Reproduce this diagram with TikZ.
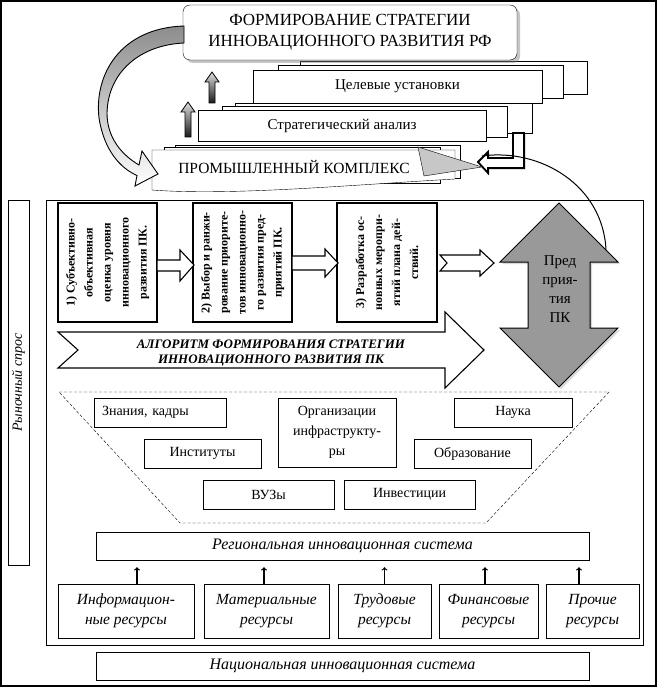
\documentclass[tikz,border=0pt]{standalone}
\usepackage{fontspec}
\setmainfont{Liberation Serif}
\usepackage{tikz}
\usetikzlibrary{shadows,calc}

\begin{document}
\begin{tikzpicture}[x=1pt,y=-1pt,
    box/.style={draw,fill=white,inner sep=0pt,align=center},
    layer/.style={draw,fill=white},
    stepbox/.style={draw,line width=1.4pt,fill=white,inner sep=0pt,align=center,rotate=90,
        minimum width=119,minimum height=99,font=\fontsize{12}{18}\selectfont\bfseries},
    ibox/.style={draw,fill=white,inner sep=0pt,align=center,minimum height=29,
        font=\fontsize{14}{17}\selectfont},
    resbox/.style={draw,fill=white,inner sep=0pt,align=center,minimum height=54,
        font=\fontsize{15.5}{20}\selectfont\itshape},
    sysbox/.style={draw,fill=white,inner sep=0pt,minimum width=493,minimum height=28,
        font=\fontsize{16}{19}\selectfont\itshape},
    blockarrow/.style={draw,line width=1.1pt,fill=white},
    uparrow/.style={draw,line width=0.8pt,top color=gray!25,middle color=gray!50,bottom color=black!90}]

   \useasboundingbox (0,0) rectangle (657,687);
   \fill[white] (0,0) rectangle (657,687);
   \draw[line width=1.4pt] (1,1) rectangle (656,686);

   \draw[layer] (300,61) rectangle (587,94);
   \draw[layer] (278,65) rectangle (563,98);
   \draw (397.5,86.5) node[box,minimum width=289,minimum height=33,font=\fontsize{15}{18}\selectfont] (celi) {Целевые установки};

   \draw (350,32.5) node[box,rounded corners=7pt,minimum width=334,minimum height=55,
      drop shadow={shadow xshift=3pt,shadow yshift=-3pt,opacity=.45},
      font=\fontsize{17}{21}\selectfont] (rf) {ФОРМИРОВАНИЕ СТРАТЕГИИ\\ИННОВАЦИОННОГО РАЗВИТИЯ РФ};

   \draw[layer] (235,103) rectangle (532,133);
   \draw[layer] (222,106) rectangle (507,137);
   \draw (342,125.5) node[box,minimum width=288,minimum height=31,font=\fontsize{15}{18}\selectfont] (analiz) {Стратегический анализ};

   \draw[layer] (175,145) rectangle (460,178);
   \draw[layer] (164,147) rectangle (440,183);
   \draw[fill=white] (152,150) -- (455,150) -- (455,179) .. controls (350,185) and (230,196) .. (152,190) -- cycle;
   \draw (294,167) node[font=\fontsize{15.5}{18}\selectfont] (prom) {ПРОМЫШЛЕННЫЙ КОМПЛЕКС};

   \draw[line width=1.8pt,fill=white,drop shadow={shadow xshift=1.5pt,shadow yshift=-1.5pt,opacity=.4}]
      (513,133) -- (524,133) -- (524,168) -- (488,168) -- (488,173) -- (478,162) -- (488,152) -- (488,158) -- (513,158) -- cycle;
   \draw[fill=black!22] (418,147) -- (482,167) -- (424,176) -- cycle;

   \draw[top color=black!45,bottom color=white,line width=0.9pt]
      (184,26) .. controls (120,28) and (94,75) .. (99,118) .. controls (104,150) and (120,168) .. (137,175.5)
      -- (135,186) -- (158,174) -- (142,151) -- (139,165)
      .. controls (122,155) and (107,138) .. (107,113) .. controls (108,72) and (140,45) .. (184,43) -- cycle;

   \draw[uparrow] (188,102) -- (195,112) -- (191,112) -- (191,137) -- (185,137) -- (185,112) -- (181,112) -- cycle;
   \draw[uparrow] (212,72) -- (219,82) -- (215,82) -- (215,103) -- (209,103) -- (209,82) -- (205,82) -- cycle;

   \draw (18.5,382.5) node[box,rotate=90,minimum width=365,minimum height=21,font=\fontsize{14}{16}\selectfont\itshape] (spros) {Рыночный спрос};

   \draw[line width=0.9pt] (46,200) rectangle (643,645);

   \draw (107.5,262.5) node[stepbox] (s1) {1) Субъективно-\\объективная\\оценка уровня\\инновационного\\развития ПК.};
   \draw (242.5,262.5) node[stepbox] (s2) {2) Выбор и ранжи-\\рование приорите-\\тов инновационно-\\го развития пред-\\приятий ПК.};
   \draw (387,262.5) node[stepbox,minimum height=100] (s3) {3) Разработка ос-\\новных меропри-\\ятий плана дей-\\ствий.};

   \draw[blockarrow] (157,260) -- (180,260) -- (180,250) -- (194,265) -- (180,281) -- (180,271) -- (157,271) -- cycle;
   \draw[blockarrow] (292,256) -- (325,256) -- (325,249) -- (338,263) -- (325,277) -- (325,270) -- (292,270) -- cycle;
   \draw[blockarrow] (440,255) -- (480,255) -- (480,250) -- (494,263) -- (480,276) -- (480,271) -- (440,271) -- (447,263) -- cycle;

   \draw[fill=black!40,line width=1pt,drop shadow={shadow xshift=2pt,shadow yshift=-2pt,opacity=.3}]
      (559,203) -- (618,262) -- (590,262) -- (590,328) -- (618,328) -- (559,387) -- (500,328) -- (528,328) -- (528,262) -- (500,262) -- cycle;
   \draw (560,289) node[align=center,font=\fontsize{15}{19}\selectfont] (pk) {Пред\\прия-\\тия\\ПК};

   \coordinate (kp) at (606,250);
   \coordinate (kpend) at (482,156);
   \draw[line width=1pt] (kp) .. controls (603,185) and (540,148) .. (kpend);

   \draw[blockarrow] (58,332) -- (445,332) -- (445,312) -- (484,350) -- (445,388) -- (445,368) -- (58,368) -- (78,350) -- cycle;
   \draw (271,353) node[align=center,font=\fontsize{13}{15.5}\selectfont\bfseries\itshape] (alg) {АЛГОРИТМ ФОРМИРОВАНИЯ СТРАТЕГИИ\\ИННОВАЦИОННОГО РАЗВИТИЯ ПК};

   \draw[dash pattern=on 3pt off 2pt] (59,392) -- (609,392) -- (486,523) -- (180,523) -- cycle;
   \draw (160,412.5) node[ibox,minimum width=132,text width=116,align=left] (znan) {Знания, кадры};
   \draw (337,432.5) node[ibox,minimum width=118,minimum height=69,font=\fontsize{14}{20}\selectfont] (org) {Организации\\инфраструкту-\\ры};
   \draw (513,412.5) node[ibox,minimum width=118] (nauka) {Наука};
   \draw (202.5,453.5) node[ibox,minimum width=117] (inst) {Институты};
   \draw (472.5,453.5) node[ibox,minimum width=117] (obraz) {Образование};
   \draw (268.5,494.5) node[ibox,minimum width=131] (vuz) {ВУЗы};
   \draw (409.5,494.5) node[ibox,minimum width=131] (invest) {Инвестиции};

   \draw (342.5,546) node[sysbox] (reg) {Региональная инновационная система};
   \draw (126,611) node[resbox,minimum width=136] (r1) {Информацион-\\ные ресурсы};
   \draw (266.5,611) node[resbox,minimum width=125] (r2) {Материальные\\ресурсы};
   \draw (384.5,611) node[resbox,minimum width=93] (r3) {Трудовые\\ресурсы};
   \draw (488.5,611) node[resbox,minimum width=99] (r4) {Финансовые\\ресурсы};
   \draw (592.5,611) node[resbox,minimum width=93] (r5) {Прочие\\ресурсы};
   \draw (342.5,666) node[sysbox] (nat) {Национальная инновационная система};

   \foreach \r/\dx in {r1/11,r2/-2.5,r3/0,r4/-3.5,r5/-13.5}
      \draw[->,line width=1.2pt] ($(\r.north)+(\dx,0)$) -- ($(\r.north |- reg.south)+(\dx,7)$);

\end{tikzpicture}
\end{document}
